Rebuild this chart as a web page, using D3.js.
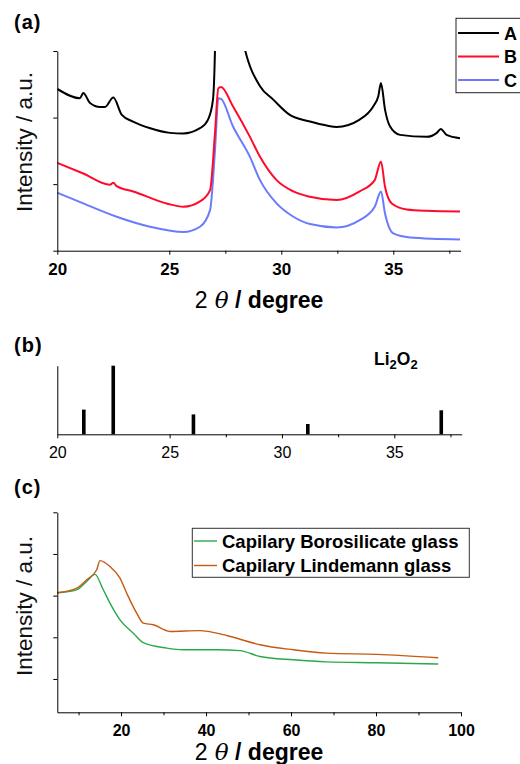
<!DOCTYPE html>
<html>
<head>
<meta charset="utf-8">
<script src="https://cdn.jsdelivr.net/npm/d3@7"></script>
<style>
  body { margin: 0; background: #fff; }
  svg { display: block; font-family: "Liberation Sans", Arial, sans-serif; }
</style>
</head>
<body>
<div id="chart"></div>
<script>
// ---- panel (a) : XRD patterns A, B, C ----
const aX = [20.00, 21.01, 21.16, 21.46, 21.91, 22.13, 22.50, 22.88, 23.38, 24.15, 25.03, 25.61, 26.37, 26.73, 26.95, 27.04, 27.12, 27.6, 28.38, 29.05, 29.64, 30.38, 31.28, 32.03, 32.47, 33.50, 34.11, 34.33, 34.45, 34.63, 34.85, 35.30, 36.49, 36.94, 37.12, 37.38, 37.98];
const aY = [2.43, 2.29, 2.37, 2.22, 2.16, 2.16, 2.30, 2.04, 1.94, 1.84, 1.77, 1.76, 1.84, 1.97, 2.27, 3.02, 4.6, 4.6, 3.02, 2.47, 2.27, 2.04, 1.94, 1.88, 1.86, 1.97, 2.17, 2.32, 2.52, 2.12, 1.87, 1.74, 1.71, 1.77, 1.83, 1.74, 1.69];

const bX = [20.00, 21.16, 22.35, 22.50, 22.65, 23.39, 24.88, 25.63, 26.37, 26.82, 27.04, 27.19, 27.31, 27.84, 28.60, 29.05, 29.79, 30.54, 31.28, 32.47, 33.50, 34.17, 34.45, 34.63, 34.93, 35.60, 36.49, 37.98];
const bY = [1.32, 1.16, 0.99, 1.02, 0.97, 0.89, 0.71, 0.66, 0.74, 0.91, 1.77, 2.44, 2.46, 2.17, 1.71, 1.41, 1.06, 0.89, 0.81, 0.76, 0.89, 1.06, 1.34, 0.96, 0.71, 0.62, 0.60, 0.59];

const cX = [20.00, 21.16, 22.65, 24.14, 25.63, 26.37, 26.82, 27.04, 27.19, 27.31, 27.84, 28.60, 29.05, 29.79, 30.54, 31.28, 32.47, 33.50, 34.17, 34.45, 34.63, 35.00, 35.74, 37.98];
const cY = [0.87, 0.71, 0.51, 0.36, 0.28, 0.36, 0.61, 1.51, 2.29, 2.28, 1.87, 1.41, 1.06, 0.71, 0.51, 0.40, 0.35, 0.46, 0.66, 0.89, 0.56, 0.26, 0.20, 0.17];

const seriesNames = ["A", "B", "C"];
const seriesColors = ["#000000", "#ff0a2a", "#6a7bff"];

// ---- panel (b) : Li2O2 reference lines ----
const refPos = [21.18, 22.49, 26.06, 31.15, 37.09];
const refInt = [36, 100, 29, 15, 35];

// ---- panel (c) : capillary glass ----
const gX = [5.0, 9.56, 11.92, 13.87, 15.82, 17.40, 19.75, 22.88, 25.24, 30.74, 34.65, 42.51, 47.99, 52.69, 60.53, 68.39, 80.15, 94.65];
const gY = [2.07, 2.14, 2.34, 2.51, 2.14, 1.82, 1.42, 1.10, 0.87, 0.74, 0.70, 0.70, 0.68, 0.54, 0.46, 0.41, 0.39, 0.36];
const oX = [5.0, 9.56, 11.92, 14.27, 15.05, 17.40, 19.75, 21.33, 23.68, 25.24, 27.59, 31.52, 38.58, 42.51, 46.41, 52.69, 60.53, 68.39, 80.15, 94.65];
const oY = [2.07, 2.18, 2.38, 2.62, 2.84, 2.70, 2.42, 2.06, 1.58, 1.34, 1.30, 1.14, 1.16, 1.10, 1.00, 0.82, 0.70, 0.62, 0.59, 0.51];
const glassNames = ["Capilary Borosilicate glass", "Capilary Lindemann glass"];
const glassColors = ["#2aa84a", "#c55a11"];

const W = 520, H = 764;
const svg = d3.select("#chart").append("svg").attr("width", W).attr("height", H);

const FONT = '"Liberation Sans", Arial, sans-serif';

function styleAxis(g, bold, size) {
  g.selectAll(".domain").attr("stroke", "#000");
  g.selectAll(".tick line").attr("stroke", "#000");
  g.selectAll(".tick text")
    .attr("fill", "#000")
    .attr("font-family", FONT)
    .attr("font-size", size)
    .attr("font-weight", bold ? "bold" : "normal");
}

function xTitle(y) {
  const t = svg.append("text")
    .attr("x", 259).attr("y", y)
    .attr("text-anchor", "middle")
    .attr("font-size", 23)
    .attr("fill", "#000");
  t.append("tspan").text("2");
  t.append("tspan").attr("font-style", "italic").attr("font-family", "DejaVu Serif").text(" θ");
  t.append("tspan").attr("font-weight", "bold").text(" / degree");
}

function yTitle(cy) {
  svg.append("text")
    .attr("transform", "translate(32," + cy + ") rotate(-90)")
    .attr("text-anchor", "middle")
    .attr("font-size", 22.5)
    .attr("fill", "#111")
    .text("Intensity  /  a.u.");
}

function panelLabel(txt, y) {
  svg.append("text").attr("x", 14).attr("y", y)
    .attr("font-size", 20).attr("font-weight", "bold")
    .attr("letter-spacing", 1).text(txt);
}

// ================= (a) =================
const xa = d3.scaleLinear().domain([20, 38]).range([57.3, 460.5]);
const ya = d3.scaleLinear().domain([0, 3]).range([250.7, 51]);

svg.append("clipPath").attr("id", "clipA")
  .append("rect").attr("x", 57.3).attr("y", 51).attr("width", 460.5 - 57.3).attr("height", 250.7 - 51);

const lineA = d3.line().x(d => xa(d[0])).y(d => ya(d[1])).curve(d3.curveMonotoneX);
const seriesA = [d3.zip(aX, aY), d3.zip(bX, bY), d3.zip(cX, cY)];

const gA = svg.append("g").attr("clip-path", "url(#clipA)");
// draw C, B, A so black sits on top
[2, 1, 0].forEach(i => {
  gA.append("path").datum(seriesA[i])
    .attr("fill", "none")
    .attr("stroke", seriesColors[i])
    .attr("stroke-width", 2)
    .attr("d", lineA);
});

const axA = svg.append("g").attr("transform", "translate(0,250.7)")
  .call(d3.axisBottom(xa).tickValues([20, 25, 30, 35]).tickSize(4).tickSizeOuter(0).tickPadding(8));
styleAxis(axA, true, 17);
svg.append("g").attr("transform", "translate(0,250.7)")
  .call(d3.axisBottom(xa).tickValues([27.5, 32.5, 37.5]).tickSize(3).tickFormat("").tickSizeOuter(0))
  .call(g => g.select(".domain").remove());
const ayA = svg.append("g").attr("transform", "translate(57.3,0)")
  .call(d3.axisLeft(ya).tickValues([0, 1, 2, 3]).tickSize(4).tickSizeOuter(0).tickFormat(""));
styleAxis(ayA, false, 10);

// legend (a)
const legA = svg.append("g");
legA.append("rect").attr("x", 456).attr("y", 18.3).attr("width", 80).attr("height", 74.4)
  .attr("fill", "#fff").attr("stroke", "#222").attr("stroke-width", 1);
seriesNames.forEach((n, i) => {
  const y = 33 + i * 23.5;
  legA.append("line").attr("x1", 458).attr("x2", 499).attr("y1", y).attr("y2", y)
    .attr("stroke", seriesColors[i]).attr("stroke-width", 2);
  legA.append("text").attr("x", 504).attr("y", y + 6.5)
    .attr("font-size", 18).attr("font-weight", "bold").text(n);
});

panelLabel("(a)", 29);
xTitle(308);
yTitle(142);

// ================= (b) =================
const xb = d3.scaleLinear().domain([20, 38]).range([57.3, 461.7]);
const yb = d3.scaleLinear().domain([0, 100]).range([434.3, 365.7]);

svg.append("g").selectAll("rect").data(d3.zip(refPos, refInt)).join("rect")
  .attr("x", d => xb(d[0]) - 1.8)
  .attr("width", 3.6)
  .attr("y", d => yb(d[1]))
  .attr("height", d => yb(0) - yb(d[1]))
  .attr("fill", "#000");

const axB = svg.append("g").attr("transform", "translate(0,434.3)")
  .call(d3.axisBottom(xb).tickValues([20, 25, 30, 35]).tickSize(4).tickSizeOuter(0).tickPadding(8));
styleAxis(axB, false, 16);
svg.append("g").attr("transform", "translate(0,434.3)")
  .call(d3.axisBottom(xb).tickValues([27.5, 32.5, 37.5]).tickSize(3).tickFormat("").tickSizeOuter(0))
  .call(g => g.select(".domain").remove());
svg.append("g").attr("transform", "translate(57.3,0)")
  .call(d3.axisLeft(yb).tickValues([]).tickSizeOuter(0))
  .call(g => g.select(".domain").attr("stroke", "#000"));

const li = svg.append("text").attr("x", 374).attr("y", 364.5)
  .attr("font-size", 17.5).attr("font-weight", "bold");
li.append("tspan").text("Li");
li.append("tspan").attr("font-size", 13).attr("dy", 4).text("2");
li.append("tspan").attr("dy", -4).text("O");
li.append("tspan").attr("font-size", 13).attr("dy", 4).text("2");

panelLabel("(b)", 352);

// ================= (c) =================
const xc = d3.scaleLinear().domain([5, 100]).range([57.3, 461]);
const yc = d3.scaleLinear().domain([-0.8, 4]).range([712.3, 512.3]);

const lineC = d3.line().x(d => xc(d[0])).y(d => yc(d[1])).curve(d3.curveMonotoneX);
const seriesC = [d3.zip(gX, gY), d3.zip(oX, oY)];
[0, 1].forEach(i => {
  svg.append("path").datum(seriesC[i])
    .attr("fill", "none")
    .attr("stroke", glassColors[i])
    .attr("stroke-width", 1.4)
    .attr("d", lineC);
});

const axC = svg.append("g").attr("transform", "translate(0,712.3)")
  .call(d3.axisBottom(xc).tickValues([20, 40, 60, 80, 100]).tickSize(4).tickSizeOuter(0).tickPadding(8));
styleAxis(axC, true, 16);
svg.append("g").attr("transform", "translate(0,712.3)")
  .call(d3.axisBottom(xc).tickValues([10, 30, 50, 70, 90]).tickSize(3).tickFormat("").tickSizeOuter(0))
  .call(g => g.select(".domain").remove());
const ayC = svg.append("g").attr("transform", "translate(57.3,0)")
  .call(d3.axisLeft(yc).tickValues([0, 1, 2, 3, 4]).tickSize(4).tickSizeOuter(0).tickFormat(""));
styleAxis(ayC, false, 10);

// legend (c)
const legC = svg.append("g");
legC.append("rect").attr("x", 192.3).attr("y", 528.3).attr("width", 277).attr("height", 49)
  .attr("fill", "#fff").attr("stroke", "#333").attr("stroke-width", 1);
glassNames.forEach((n, i) => {
  const y = 541 + i * 24.5;
  legC.append("line").attr("x1", 194).attr("x2", 217).attr("y1", y).attr("y2", y)
    .attr("stroke", glassColors[i]).attr("stroke-width", 1.4);
  legC.append("text").attr("x", 222).attr("y", y + 6.5)
    .attr("font-size", 18.5).attr("font-weight", "bold").text(n);
});

panelLabel("(c)", 494);
xTitle(760);
yTitle(606);
</script>
</body>
</html>
